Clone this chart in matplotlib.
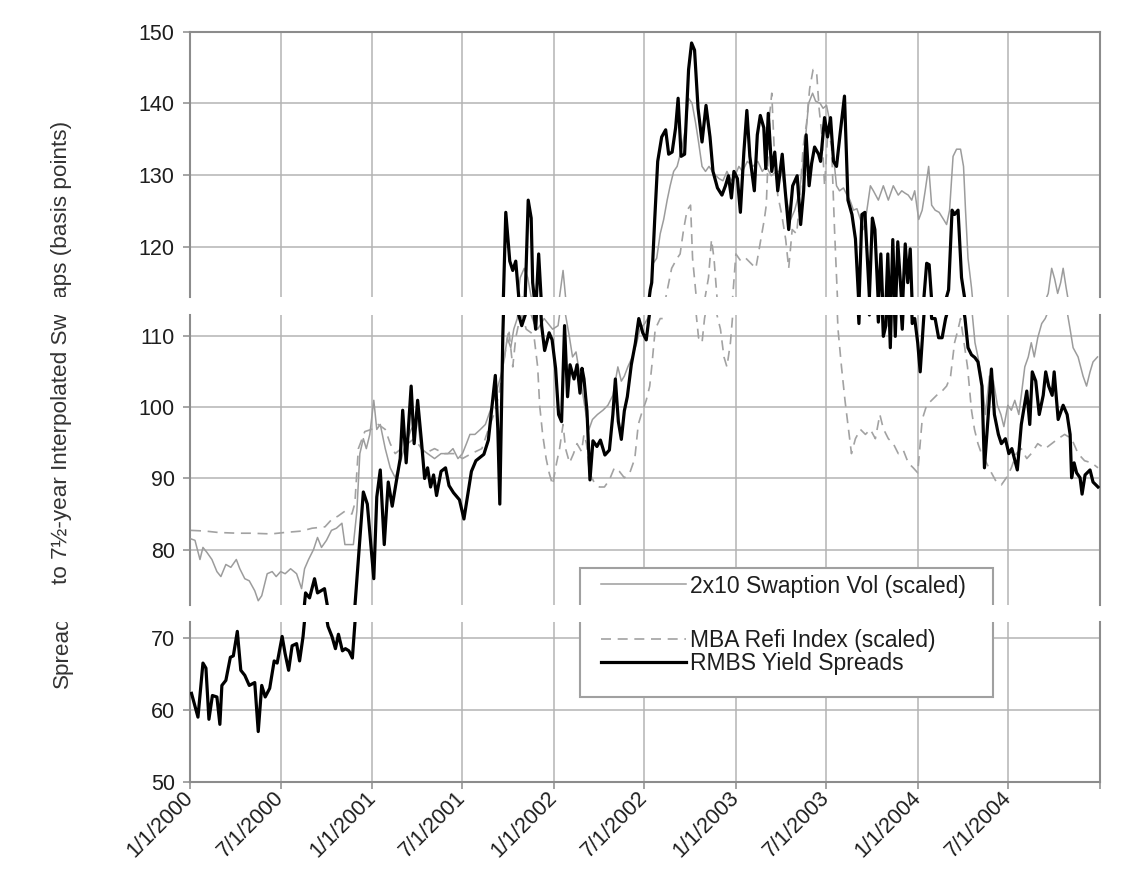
import pandas as pd
import matplotlib.pyplot as plt
from matplotlib.patches import Rectangle
from matplotlib.transforms import Bbox, TransformedBbox

plt.rcParams['font.family'] = ['Liberation Sans', 'DejaVu Sans']

# weekly series (date, basis points)
rmbs = [
    ('2000-01-04', 62.3), ('2000-01-17', 59.0), ('2000-01-27', 66.5), ('2000-02-02', 65.8), ('2000-02-08', 58.7),
    ('2000-02-15', 62.0), ('2000-02-24', 61.8), ('2000-03-01', 58.0), ('2000-03-05', 63.4), ('2000-03-13', 64.1),
    ('2000-03-22', 67.3), ('2000-03-28', 67.5), ('2000-04-05', 70.9), ('2000-04-12', 65.5), ('2000-04-20', 64.8),
    ('2000-04-29', 63.4), ('2000-05-10', 63.8), ('2000-05-17', 57.0), ('2000-05-24', 63.4), ('2000-05-31', 61.8),
    ('2000-06-09', 63.0), ('2000-06-18', 66.8), ('2000-06-24', 66.5), ('2000-07-04', 70.2), ('2000-07-10', 67.8),
    ('2000-07-17', 65.5), ('2000-07-24', 68.9), ('2000-08-02', 69.2), ('2000-08-08', 66.8), ('2000-08-15', 70.2),
    ('2000-08-20', 73.9), ('2000-08-28', 73.2), ('2000-09-07', 75.9), ('2000-09-13', 73.9), ('2000-09-20', 74.2),
    ('2000-09-27', 74.5), ('2000-10-04', 71.6), ('2000-10-12', 70.2), ('2000-10-19', 68.5), ('2000-10-25', 70.5),
    ('2000-11-02', 68.2), ('2000-11-08', 68.5), ('2000-11-15', 68.2), ('2000-11-22', 67.2), ('2000-12-04', 78.6),
    ('2000-12-14', 88.1), ('2000-12-22', 86.4),
    ('2001-01-04', 75.9), ('2001-01-10', 87.4), ('2001-01-17', 91.2), ('2001-01-25', 80.7), ('2001-02-02', 89.5),
    ('2001-02-10', 86.1), ('2001-02-18', 89.5), ('2001-02-26', 92.8), ('2001-03-03', 99.6), ('2001-03-10', 92.2),
    ('2001-03-20', 103.0), ('2001-03-26', 94.9), ('2001-04-02', 101.0), ('2001-04-10', 95.0), ('2001-04-16', 90.0),
    ('2001-04-22', 91.5), ('2001-04-28', 88.8), ('2001-05-04', 90.5), ('2001-05-10', 87.6), ('2001-05-19', 91.0),
    ('2001-05-28', 91.5), ('2001-06-04', 89.0), ('2001-06-13', 88.0), ('2001-06-25', 87.0), ('2001-07-04', 84.3),
    ('2001-07-19', 91.0), ('2001-07-28', 92.5), ('2001-08-13', 93.4), ('2001-08-22', 95.4), ('2001-09-01', 102.0),
    ('2001-09-05', 104.5), ('2001-09-10', 97.0), ('2001-09-14', 86.4), ('2001-09-20', 110.0), ('2001-09-26', 124.8),
    ('2001-10-04', 118.0), ('2001-10-10', 116.7), ('2001-10-16', 118.0), ('2001-10-22', 113.0), ('2001-10-28', 111.5),
    ('2001-11-04', 113.0), ('2001-11-10', 126.5), ('2001-11-16', 124.0), ('2001-11-19', 115.0), ('2001-11-25', 111.0),
    ('2001-12-01', 119.0), ('2001-12-07', 111.5), ('2001-12-13', 108.0), ('2001-12-22', 110.5), ('2001-12-28', 109.5),
    ('2002-01-04', 105.5), ('2002-01-10', 99.0), ('2002-01-16', 98.0), ('2002-01-22', 111.5), ('2002-01-28', 101.5),
    ('2002-02-02', 106.0), ('2002-02-10', 104.0), ('2002-02-16', 106.0), ('2002-02-22', 102.0), ('2002-02-26', 105.5),
    ('2002-03-02', 104.0), ('2002-03-08', 99.5), ('2002-03-14', 89.8), ('2002-03-20', 95.3), ('2002-03-28', 94.5),
    ('2002-04-04', 95.4), ('2002-04-13', 93.3), ('2002-04-22', 94.0), ('2002-04-29', 99.0), ('2002-05-04', 104.0),
    ('2002-05-10', 98.0), ('2002-05-16', 95.5), ('2002-05-22', 99.5), ('2002-05-28', 101.5), ('2002-06-05', 106.0),
    ('2002-06-13', 109.0), ('2002-06-20', 112.5), ('2002-06-28', 110.5), ('2002-07-05', 109.5), ('2002-07-13', 114.0),
    ('2002-07-16', 115.0), ('2002-07-22', 123.8), ('2002-07-28', 131.9), ('2002-08-05', 135.3), ('2002-08-13', 136.3),
    ('2002-08-19', 132.9), ('2002-08-26', 133.2), ('2002-09-02', 136.6), ('2002-09-07', 140.7), ('2002-09-13', 132.6),
    ('2002-09-20', 132.9), ('2002-09-28', 144.7), ('2002-10-04', 148.4), ('2002-10-10', 147.4), ('2002-10-17', 139.3),
    ('2002-10-25', 134.6), ('2002-11-02', 139.7), ('2002-11-10', 135.3), ('2002-11-16', 130.5), ('2002-11-25', 128.2),
    ('2002-12-04', 127.2), ('2002-12-11', 128.5), ('2002-12-17', 129.9), ('2002-12-23', 126.8), ('2002-12-28', 130.5),
    ('2003-01-04', 129.5), ('2003-01-10', 124.8), ('2003-01-17', 133.2), ('2003-01-23', 139.0), ('2003-01-29', 132.6),
    ('2003-02-07', 127.8), ('2003-02-13', 135.6), ('2003-02-19', 138.3), ('2003-02-26', 136.6), ('2003-03-02', 130.9),
    ('2003-03-07', 138.6), ('2003-03-14', 130.5), ('2003-03-20', 133.2), ('2003-03-26', 127.8), ('2003-04-04', 132.9),
    ('2003-04-10', 127.8), ('2003-04-17', 122.4), ('2003-04-25', 128.5), ('2003-05-04', 129.9), ('2003-05-11', 123.1),
    ('2003-05-17', 127.8), ('2003-05-22', 135.6), ('2003-05-28', 128.5), ('2003-06-02', 131.6), ('2003-06-08', 133.9),
    ('2003-06-16', 132.9), ('2003-06-20', 131.9), ('2003-06-28', 138.0), ('2003-07-04', 135.3), ('2003-07-10', 138.0),
    ('2003-07-16', 131.9), ('2003-07-22', 131.2), ('2003-07-29', 135.6), ('2003-08-07', 141.0), ('2003-08-14', 126.5),
    ('2003-08-22', 124.5), ('2003-08-29', 121.1), ('2003-09-05', 111.8), ('2003-09-11', 124.5), ('2003-09-17', 124.8),
    ('2003-09-26', 113.0), ('2003-10-02', 124.0), ('2003-10-07', 122.4), ('2003-10-14', 112.0), ('2003-10-19', 119.0),
    ('2003-10-24', 110.0), ('2003-10-29', 111.5), ('2003-11-02', 119.0), ('2003-11-07', 108.4), ('2003-11-12', 121.0),
    ('2003-11-17', 110.0), ('2003-11-22', 120.7), ('2003-12-01', 111.0), ('2003-12-07', 120.4), ('2003-12-12', 115.0),
    ('2003-12-17', 119.7), ('2003-12-21', 111.8), ('2003-12-26', 112.5),
    ('2004-01-01', 109.1), ('2004-01-06', 105.0), ('2004-01-13', 112.5), ('2004-01-19', 117.7), ('2004-01-24', 117.5),
    ('2004-01-29', 112.5), ('2004-02-05', 112.5), ('2004-02-12', 109.8), ('2004-02-19', 109.8), ('2004-02-26', 112.5),
    ('2004-03-03', 114.0), ('2004-03-10', 125.1), ('2004-03-15', 124.5), ('2004-03-22', 125.1), ('2004-03-29', 115.7),
    ('2004-04-05', 112.5), ('2004-04-11', 108.4), ('2004-04-18', 107.4), ('2004-04-25', 107.0), ('2004-05-01', 106.4),
    ('2004-05-09', 103.0), ('2004-05-14', 91.5), ('2004-05-21', 98.3), ('2004-05-28', 105.4), ('2004-06-03', 99.0),
    ('2004-06-11', 96.2), ('2004-06-17', 94.9), ('2004-06-25', 95.6), ('2004-07-02', 93.5), ('2004-07-08', 94.2),
    ('2004-07-19', 91.2), ('2004-07-27', 97.6), ('2004-08-07', 102.3), ('2004-08-13', 97.6), ('2004-08-18', 105.0),
    ('2004-08-25', 103.7), ('2004-09-01', 99.0), ('2004-09-09', 101.7), ('2004-09-14', 105.0), ('2004-09-20', 103.0),
    ('2004-09-27', 101.7), ('2004-10-01', 105.0), ('2004-10-09', 98.3), ('2004-10-19', 100.3), ('2004-10-27', 99.0),
    ('2004-11-02', 96.2), ('2004-11-05', 90.1), ('2004-11-10', 92.2), ('2004-11-15', 90.8), ('2004-11-22', 90.1),
    ('2004-11-26', 87.8), ('2004-12-02', 90.5), ('2004-12-12', 91.2), ('2004-12-18', 89.5), ('2004-12-28', 88.8),
]

swaption_vol = [
    ('2000-01-03', 81.5), ('2000-01-11', 81.3), ('2000-01-21', 78.6), ('2000-01-27', 80.3), ('2000-02-04', 79.6),
    ('2000-02-14', 78.6), ('2000-02-24', 76.9), ('2000-03-03', 76.2), ('2000-03-13', 77.9), ('2000-03-23', 77.5),
    ('2000-04-03', 78.6), ('2000-04-10', 77.3), ('2000-04-20', 75.9), ('2000-04-29', 75.6), ('2000-05-10', 74.2),
    ('2000-05-17', 72.8), ('2000-05-24', 73.5), ('2000-06-04', 76.6), ('2000-06-14', 76.9), ('2000-06-22', 76.2),
    ('2000-07-01', 76.9), ('2000-07-10', 76.6), ('2000-07-21', 77.3), ('2000-08-02', 76.6), ('2000-08-12', 74.5),
    ('2000-08-18', 77.3), ('2000-08-26', 78.6), ('2000-09-05', 80.0), ('2000-09-13', 81.7), ('2000-09-21', 80.3),
    ('2000-10-01', 81.3), ('2000-10-11', 82.7), ('2000-10-21', 83.0), ('2000-11-01', 83.7), ('2000-11-07', 80.7),
    ('2000-11-24', 80.7), ('2000-12-01', 85.4), ('2000-12-07', 93.5), ('2000-12-14', 95.6), ('2000-12-20', 94.2),
    ('2000-12-27', 96.2),
    ('2001-01-04', 101.0), ('2001-01-10', 96.9), ('2001-01-17', 97.6), ('2001-01-27', 94.2), ('2001-02-06', 91.5),
    ('2001-02-16', 90.1), ('2001-02-26', 92.2), ('2001-03-06', 94.2), ('2001-03-20', 96.9), ('2001-04-02', 98.3),
    ('2001-04-09', 94.2), ('2001-04-22', 93.5), ('2001-05-06', 92.8), ('2001-05-19', 93.5), ('2001-06-02', 93.5),
    ('2001-06-12', 94.2), ('2001-06-22', 92.8), ('2001-07-01', 93.5), ('2001-07-09', 94.9), ('2001-07-16', 96.2),
    ('2001-07-26', 96.2), ('2001-08-06', 96.9), ('2001-08-16', 97.6), ('2001-08-26', 99.6), ('2001-09-05', 101.7),
    ('2001-09-16', 104.4), ('2001-09-22', 106.4), ('2001-09-29', 109.8), ('2001-10-06', 108.4), ('2001-10-12', 111.0),
    ('2001-10-19', 112.5), ('2001-10-25', 115.7), ('2001-11-02', 117.0), ('2001-11-09', 115.7), ('2001-11-16', 113.0),
    ('2001-11-22', 111.8), ('2001-11-29', 111.0), ('2001-12-12', 112.5), ('2001-12-29', 111.0),
    ('2002-01-09', 111.5), ('2002-01-19', 116.7), ('2002-01-24', 113.0), ('2002-02-01', 109.8), ('2002-02-07', 107.1),
    ('2002-02-14', 107.8), ('2002-02-22', 104.4), ('2002-02-28', 101.7), ('2002-03-06', 99.0), ('2002-03-12', 96.9),
    ('2002-03-19', 98.3), ('2002-03-29', 99.0), ('2002-04-09', 99.6), ('2002-04-19', 100.3), ('2002-04-29', 101.7),
    ('2002-05-09', 105.7), ('2002-05-16', 103.7), ('2002-05-22', 104.4), ('2002-05-29', 105.7), ('2002-06-07', 107.1),
    ('2002-06-16', 109.1), ('2002-06-22', 111.0), ('2002-07-02', 111.8), ('2002-07-12', 113.0), ('2002-07-19', 117.7),
    ('2002-07-26', 118.4), ('2002-08-02', 121.8), ('2002-08-09', 123.8), ('2002-08-16', 126.5), ('2002-08-22', 128.5),
    ('2002-08-29', 130.5), ('2002-09-05', 131.2), ('2002-09-15', 133.9), ('2002-09-22', 136.6), ('2002-09-28', 140.7),
    ('2002-10-05', 140.0), ('2002-10-12', 137.3), ('2002-10-18', 134.6), ('2002-10-25', 131.2), ('2002-11-01', 130.5),
    ('2002-11-08', 131.2), ('2002-11-18', 130.2), ('2002-11-28', 129.5), ('2002-12-06', 129.2), ('2002-12-14', 130.5),
    ('2002-12-23', 129.2),
    ('2003-01-01', 130.2), ('2003-01-07', 131.2), ('2003-01-14', 130.5), ('2003-01-24', 131.9), ('2003-02-04', 131.2),
    ('2003-02-14', 131.9), ('2003-02-23', 130.5), ('2003-03-03', 131.2), ('2003-03-13', 129.9), ('2003-03-23', 130.5),
    ('2003-04-03', 130.5), ('2003-04-13', 126.5), ('2003-04-21', 123.8), ('2003-04-29', 125.1), ('2003-05-07', 127.2),
    ('2003-05-14', 130.5), ('2003-05-20', 134.6), ('2003-05-27', 140.0), ('2003-06-04', 141.4), ('2003-06-10', 140.3),
    ('2003-06-19', 140.0), ('2003-06-25', 139.3), ('2003-07-02', 139.7), ('2003-07-09', 137.3), ('2003-07-15', 133.2),
    ('2003-07-22', 128.5), ('2003-07-28', 127.8), ('2003-08-05', 128.2), ('2003-08-12', 127.2), ('2003-08-18', 126.5),
    ('2003-08-25', 125.1), ('2003-09-01', 125.3), ('2003-09-08', 123.8), ('2003-09-14', 122.4), ('2003-09-21', 125.1),
    ('2003-09-28', 128.5), ('2003-10-04', 127.8), ('2003-10-14', 126.5), ('2003-10-24', 128.5), ('2003-11-03', 126.5),
    ('2003-11-13', 128.5), ('2003-11-23', 127.2), ('2003-11-30', 127.8), ('2003-12-06', 127.5), ('2003-12-13', 127.2),
    ('2003-12-20', 126.5), ('2003-12-26', 127.8),
    ('2004-01-03', 123.8), ('2004-01-10', 125.1), ('2004-01-16', 127.8), ('2004-01-23', 131.2), ('2004-01-29', 125.8),
    ('2004-02-05', 125.1), ('2004-02-13', 124.8), ('2004-02-22', 123.8), ('2004-02-28', 123.1), ('2004-03-05', 125.1),
    ('2004-03-12', 132.6), ('2004-03-19', 133.6), ('2004-03-27', 133.6), ('2004-04-02', 131.2), ('2004-04-06', 125.1),
    ('2004-04-11', 118.4), ('2004-04-18', 114.3), ('2004-04-25', 109.1), ('2004-05-01', 107.1), ('2004-05-08', 104.4),
    ('2004-05-16', 99.0), ('2004-05-24', 104.4), ('2004-06-01', 103.7), ('2004-06-09', 100.3), ('2004-06-16', 99.0),
    ('2004-06-22', 97.3), ('2004-06-30', 100.3), ('2004-07-07', 99.6), ('2004-07-14', 101.0), ('2004-07-22', 99.0),
    ('2004-07-27', 101.7), ('2004-08-03', 105.7), ('2004-08-10', 107.1), ('2004-08-16', 109.1), ('2004-08-22', 107.1),
    ('2004-08-29', 109.8), ('2004-09-06', 111.8), ('2004-09-13', 112.5), ('2004-09-19', 113.5), ('2004-09-26', 117.0),
    ('2004-10-02', 115.5), ('2004-10-08', 113.5), ('2004-10-14', 115.0), ('2004-10-19', 117.0), ('2004-10-25', 114.3),
    ('2004-11-02', 111.0), ('2004-11-08', 108.4), ('2004-11-18', 107.1), ('2004-11-28', 104.4), ('2004-12-05', 103.0),
    ('2004-12-12', 105.0), ('2004-12-18', 106.4), ('2004-12-27', 107.1),
]

refi_index = [
    ('2000-01-03', 82.7), ('2000-02-01', 82.6), ('2000-02-27', 82.4), ('2000-04-06', 82.3), ('2000-05-03', 82.3),
    ('2000-06-12', 82.2), ('2000-07-09', 82.4), ('2000-08-12', 82.6), ('2000-09-02', 83.0), ('2000-09-28', 83.2),
    ('2000-10-11', 84.2), ('2000-10-24', 84.7), ('2000-11-07', 85.4), ('2000-11-21', 85.0), ('2000-11-27', 86.5),
    ('2000-12-04', 94.2), ('2000-12-17', 96.6), ('2000-12-30', 96.9),
    ('2001-01-13', 97.6), ('2001-01-27', 96.9), ('2001-02-06', 94.9), ('2001-02-16', 93.5), ('2001-02-28', 94.2),
    ('2001-03-13', 94.9), ('2001-03-26', 95.6), ('2001-04-02', 95.0), ('2001-04-16', 93.5), ('2001-05-06', 94.2),
    ('2001-05-26', 93.5), ('2001-06-16', 93.5), ('2001-07-01', 92.8), ('2001-07-19', 93.5), ('2001-08-09', 94.2),
    ('2001-08-22', 96.9), ('2001-09-02', 99.0), ('2001-09-12', 101.7), ('2001-09-22', 106.4), ('2001-10-02', 111.0),
    ('2001-10-10', 105.7), ('2001-10-16', 109.8), ('2001-10-22', 111.8), ('2001-10-29', 113.0), ('2001-11-06', 111.0),
    ('2001-11-16', 110.5), ('2001-11-22', 109.8), ('2001-11-29', 105.7), ('2001-12-03', 100.3), ('2001-12-09', 96.2),
    ('2001-12-16', 92.8), ('2001-12-22', 90.8), ('2001-12-29', 89.1),
    ('2002-01-06', 92.2), ('2002-01-12', 94.2), ('2002-01-19', 97.6), ('2002-01-24', 94.2), ('2002-02-01', 92.2),
    ('2002-02-09', 93.5), ('2002-02-16', 94.9), ('2002-02-25', 93.8), ('2002-03-02', 96.2), ('2002-03-07', 94.9),
    ('2002-03-13', 90.8), ('2002-03-22', 89.5), ('2002-04-02', 88.8), ('2002-04-12', 88.8), ('2002-04-22', 89.8),
    ('2002-05-02', 91.5), ('2002-05-12', 91.0), ('2002-05-22', 90.1), ('2002-06-02', 90.8), ('2002-06-12', 92.8),
    ('2002-06-19', 97.6), ('2002-06-25', 99.0), ('2002-07-05', 101.0), ('2002-07-12', 103.0), ('2002-07-16', 105.7),
    ('2002-07-23', 111.0), ('2002-08-02', 112.5), ('2002-08-12', 112.5), ('2002-08-25', 117.0), ('2002-09-05', 118.4),
    ('2002-09-11', 119.0), ('2002-09-18', 122.4), ('2002-09-25', 125.1), ('2002-10-02', 125.8), ('2002-10-06', 118.4),
    ('2002-10-12', 114.0), ('2002-10-18', 109.8), ('2002-10-25', 109.1), ('2002-10-30', 112.5), ('2002-11-07', 115.7),
    ('2002-11-13', 121.0), ('2002-11-18', 118.4), ('2002-11-24', 113.0), ('2002-12-01', 111.0), ('2002-12-08', 107.1),
    ('2002-12-14', 105.7), ('2002-12-21', 109.1), ('2002-12-25', 112.5),
    ('2003-01-01', 119.0), ('2003-01-11', 118.0), ('2003-01-21', 118.4), ('2003-01-31', 117.7), ('2003-02-10', 117.0),
    ('2003-02-20', 121.0), ('2003-02-27', 123.8), ('2003-03-03', 125.8), ('2003-03-10', 138.6), ('2003-03-14', 141.4),
    ('2003-03-20', 131.9), ('2003-03-26', 127.2), ('2003-04-03', 124.5), ('2003-04-11', 121.0), ('2003-04-17', 117.0),
    ('2003-04-24', 122.4), ('2003-05-03', 121.8), ('2003-05-09', 126.5), ('2003-05-16', 133.9), ('2003-05-23', 137.3),
    ('2003-05-29', 142.0), ('2003-06-05', 144.7), ('2003-06-12', 144.4), ('2003-06-17', 139.3), ('2003-06-23', 135.3),
    ('2003-06-28', 128.5), ('2003-07-05', 136.6), ('2003-07-12', 134.0), ('2003-07-18', 122.4), ('2003-07-25', 111.0),
    ('2003-08-01', 105.7), ('2003-08-08', 101.0), ('2003-08-15', 96.9), ('2003-08-21', 93.5), ('2003-08-29', 95.6),
    ('2003-09-08', 96.9), ('2003-09-18', 96.2), ('2003-09-28', 96.9), ('2003-10-08', 95.6), ('2003-10-17', 99.0),
    ('2003-10-24', 97.0), ('2003-11-03', 95.6), ('2003-11-13', 94.9), ('2003-11-23', 93.5), ('2003-12-03', 94.0),
    ('2003-12-13', 92.2), ('2003-12-23', 91.5),
    ('2004-01-01', 90.8), ('2004-01-10', 98.3), ('2004-01-19', 100.3), ('2004-01-29', 101.0), ('2004-02-08', 101.7),
    ('2004-02-19', 102.3), ('2004-02-28', 103.0), ('2004-03-07', 104.4), ('2004-03-15', 109.1), ('2004-03-22', 111.0),
    ('2004-03-27', 112.5), ('2004-04-03', 109.1), ('2004-04-10', 105.7), ('2004-04-18', 99.6), ('2004-04-24', 96.9),
    ('2004-05-01', 94.9), ('2004-05-08', 93.5), ('2004-05-18', 92.2), ('2004-05-28', 90.8), ('2004-06-07', 89.5),
    ('2004-06-17', 89.1), ('2004-06-27', 90.1), ('2004-07-07', 91.5), ('2004-07-17', 93.5), ('2004-07-27', 94.2),
    ('2004-08-07', 92.8), ('2004-08-16', 93.5), ('2004-08-29', 94.9), ('2004-09-13', 94.2), ('2004-09-26', 94.9),
    ('2004-10-09', 95.6), ('2004-10-22', 96.2), ('2004-11-05', 95.6), ('2004-11-18', 93.5), ('2004-12-01', 92.5),
    ('2004-12-15', 92.2), ('2004-12-28', 91.5),
]

tick_dates = ['2000-01-01', '2000-07-01', '2001-01-01', '2001-07-01', '2002-01-01', '2002-07-01',
              '2003-01-01', '2003-07-01', '2004-01-01', '2004-07-01', '2005-01-01']
tick_labels = ['1/1/2000', '7/1/2000', '1/1/2001', '7/1/2001', '1/1/2002', '7/1/2002',
               '1/1/2003', '7/1/2003', '1/1/2004', '7/1/2004', '']

# y title, split where the blank rows cross it
y_label_parts = ['Spread', 'to 7\u00bd-year Interpolated Sw', 'aps (basis points)']
legend_labels = ['2x10 Swaption Vol (scaled)', 'MBA Refi Index (scaled)', 'RMBS Yield Spreads']


def to_series(pairs):
    d = pd.DataFrame(pairs, columns=['date', 'value'])
    d['date'] = pd.to_datetime(d['date'])
    return d


s_rmbs = to_series(rmbs)
s_vol = to_series(swaption_vol)
s_refi = to_series(refi_index)
ticks = pd.to_datetime(tick_dates)

W, H = 1128, 883
fig = plt.figure(figsize=(W / 100, H / 100), dpi=100)

grid_col = '#b4b4b4'
frame_col = '#8c8c8c'
text_col = '#1e1e1e'


def fy(px):
    # pixel row from the top -> figure fraction
    return 1 - px / H


def rows_box(top, bot):
    return TransformedBbox(Bbox([[0, fy(bot)], [1, fy(top)]]), fig.transFigure)


# the plot area is cut into three horizontal strips separated by blank rows
strips = [
    # top px, bottom px, y range, y ticks
    (31.5, 297, (113.0, 150), [120, 130, 140, 150]),
    (315, 605, (72.2, 113.0), [80, 90, 100, 110]),
    (622, 782, (50, 72.2), [50, 60, 70]),
]

axes = []
for i, (top, bot, ylim, yt) in enumerate(strips):
    ax = fig.add_axes([190 / W, fy(bot), 910 / W, (bot - top) / H])
    l_vol, = ax.plot(s_vol['date'], s_vol['value'], color='#9c9c9c', lw=1.1, zorder=3)
    l_refi, = ax.plot(s_refi['date'], s_refi['value'], color='#a2a2a2', lw=1.2,
                      dashes=(6, 4), zorder=3)
    l_rmbs, = ax.plot(s_rmbs['date'], s_rmbs['value'], color='black', lw=2.3, zorder=4)
    ax.set_xlim(ticks[0], ticks[-1])
    ax.set_ylim(*ylim)
    ax.set_yticks(yt)
    ax.set_xticks(ticks)
    ax.grid(True, color=grid_col, lw=1.1)
    ax.set_axisbelow(True)
    for sp in ax.spines.values():
        sp.set_color(frame_col)
        sp.set_linewidth(1.5)
    if i > 0:
        ax.spines['top'].set_visible(False)
    if i < 2:
        ax.spines['bottom'].set_visible(False)
        ax.tick_params(axis='x', length=0, labelbottom=False)
    ax.tick_params(axis='y', direction='out', length=5, width=1.1, color=frame_col,
                   labelsize=15.5, labelcolor=text_col, pad=6)
    axes.append(ax)

ax_bot = axes[-1]
ax_bot.set_xticklabels(tick_labels, rotation=45, ha='right', va='center',
                       rotation_mode='anchor')
ax_bot.tick_params(axis='x', direction='out', length=5, width=1.1, color=frame_col,
                   labelsize=15.5, labelcolor=text_col, pad=4)

# y axis title pieces (bottom, middle, top strip)
title_kw = dict(rotation=90, ha='center', fontsize=16.2, color='#333333')
t = fig.text(62 / W, fy(688), y_label_parts[0], va='bottom', **title_kw)
t.set_clip_box(rows_box(622, H))
t = fig.text(62 / W, fy(313), y_label_parts[1], va='top', **title_kw)
t.set_clip_box(rows_box(315, 605))
t = fig.text(62 / W, fy(298), y_label_parts[2], va='bottom', **title_kw)
t.set_clip_box(rows_box(0, 297))

# legend frame, drawn once per strip so it stays open across the blank rows
for top, bot in [(0, 605), (622, H)]:
    frame = Rectangle((580 / W, fy(697)), 413 / W, 129 / H, transform=fig.transFigure,
                      facecolor='white', edgecolor='#a0a0a0', lw=1.5, zorder=4)
    fig.add_artist(frame)
    frame.set_clip_box(rows_box(top, bot))

leg_kw = dict(loc='center left', borderaxespad=0, borderpad=0, fontsize=16.5,
              frameon=False, labelspacing=0, handlelength=3.7, handletextpad=0.2)
leg1 = fig.legend([l_vol], legend_labels[:1], bbox_to_anchor=(601 / W, fy(586)), **leg_kw)
leg2 = fig.legend([l_refi, l_rmbs], legend_labels[1:], bbox_to_anchor=(601 / W, fy(652)),
                  **leg_kw)
for leg in (leg1, leg2):
    for txt in leg.get_texts():
        txt.set_color(text_col)

fig.savefig('out.png', dpi=100, facecolor='white')
